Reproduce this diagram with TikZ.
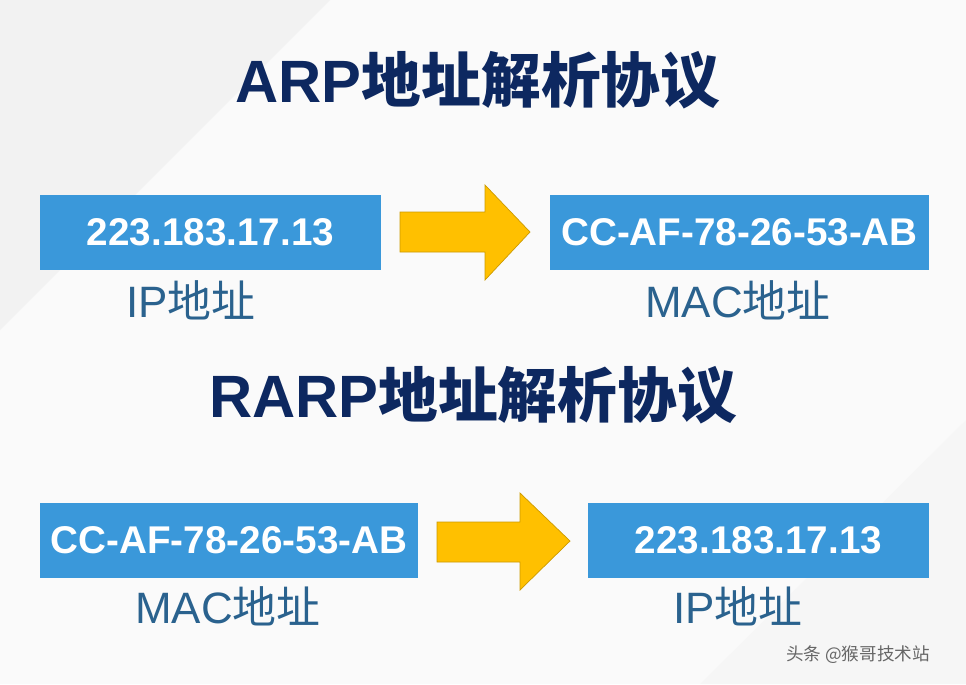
\documentclass[tikz,border=0pt]{standalone}
\usepackage{fontspec}
\setmainfont{Liberation Sans}
\newfontfamily\cjk{Noto Sans CJK SC}
\usetikzlibrary{positioning}
\definecolor{navy}{HTML}{0D2860}
\definecolor{boxblue}{HTML}{3A98DA}
\definecolor{labblue}{HTML}{2A628E}
\definecolor{arrowyel}{HTML}{FFC000}
\begin{document}
\begin{tikzpicture}[x=0.02cm,y=-0.02cm,
    addr/.style={rectangle, fill=boxblue, text=white, inner sep=0pt, font=\fontsize{22}{22}\selectfont\bfseries},
    lab/.style={text=labblue, font=\fontsize{25}{25}\selectfont},
    title/.style={text=navy, font=\fontsize{34}{34}\selectfont\bfseries},
    ]
    % background
    \fill[white!96!gray] (0,0) rectangle (966,684);
    \fill[white!90!gray] (0,0) -- (330,0) -- (0,330) -- cycle;
    \fill[white!93!gray] (966,420) -- (966,684) -- (700,684) -- cycle;
    \useasboundingbox (0,0) rectangle (966,684);

    \node[title] (t1) at (478,80) {ARP{\cjk\bfseries 地址解析协议}};
    \node[title] (t2) at (473,395) {RARP{\cjk\bfseries 地址解析协议}};

    % ARP row
    \node[addr, minimum width=6.82cm, minimum height=1.5cm] (ip1) at (210.5,232.5) {223.183.17.13};
    \node[addr, minimum width=7.58cm, minimum height=1.5cm] (mac1) at (739.5,232.5) {CC-AF-78-26-53-AB};
    \node[lab] (lip1) at (191,300) {IP{\cjk 地址}};
    \node[lab] (lmac1) at (738,300) {MAC{\cjk 地址}};
    \fill[arrowyel, draw=arrowyel!80!black, thin] (400,212) -- (485,212) -- (485,185) -- (530,232) -- (485,280) -- (485,252) -- (400,252) -- cycle;

    % RARP row
    \node[addr, minimum width=7.56cm, minimum height=1.5cm] (mac2) at (229,540.5) {CC-AF-78-26-53-AB};
    \node[addr, minimum width=6.82cm, minimum height=1.5cm] (ip2) at (758.5,540.5) {223.183.17.13};
    \node[lab] (lmac2) at (228,606) {MAC{\cjk 地址}};
    \node[lab] (lip2) at (738,606) {IP{\cjk 地址}};
    \fill[arrowyel, draw=arrowyel!80!black, thin] (437,522) -- (520,522) -- (520,493) -- (570,541) -- (520,590) -- (520,562) -- (437,562) -- cycle;

    \node[text=gray!80!black, font=\fontsize{10}{10}\selectfont\cjk] (wm) at (858,655) {头条 @猴哥技术站};
\end{tikzpicture}
\end{document}
